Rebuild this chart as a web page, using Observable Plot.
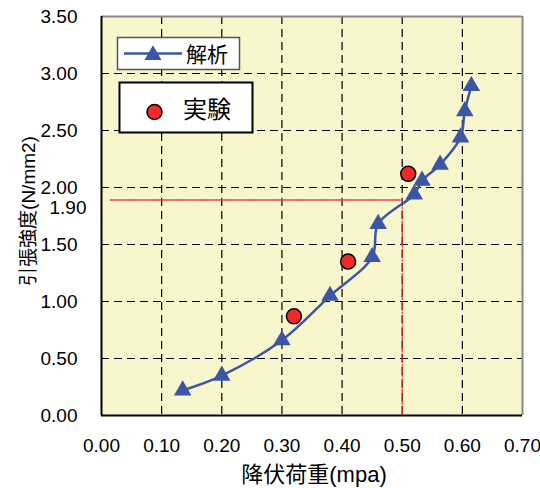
<!DOCTYPE html>
<html>
<head>
<meta charset="utf-8">
<script src="https://cdn.jsdelivr.net/npm/d3@7"></script>
<script src="https://cdn.jsdelivr.net/npm/@observablehq/plot@0.6"></script>
<style>
  html, body { margin: 0; padding: 0; background: #fff; }
  #chart { width: 540px; height: 488px; }
</style>
</head>
<body>
<div id="chart"></div>
<script>
// ---- data ----
const analysisX = [0.135, 0.20, 0.30, 0.38, 0.45, 0.46, 0.52, 0.533, 0.563, 0.597, 0.604, 0.615];
const analysisY = [0.22, 0.35, 0.66, 1.05, 1.39, 1.68, 1.94, 2.06, 2.20, 2.44, 2.67, 2.89];
const experimentX = [0.32, 0.41, 0.51];
const experimentY = [0.87, 1.35, 2.12];
const refHX = [0.015, 0.50];
const refHY = [1.89, 1.89];
const refVX = [0.50, 0.50];
const refVY = [1.89, 0.0];
const xTicks = [0, 0.1, 0.2, 0.3, 0.4, 0.5, 0.6, 0.7];
const yTicks = [0, 0.5, 1.0, 1.5, 2.0, 2.5, 3.0, 3.5];
const specialLabel = "1.90";
const xTitle = "降伏荷重(mpa)";
const yTitle = "引張強度(N/mm2)";
const seriesNames = ["解析", "実験"];

const analysis = analysisX.map((x, i) => ({x, y: analysisY[i]}));
const experiment = experimentX.map((x, i) => ({x, y: experimentY[i]}));
const refH = refHX.map((x, i) => ({x, y: refHY[i]}));
const refV = refVX.map((x, i) => ({x, y: refVY[i]}));

const blue = "#3d55a5";
const red = "#ee2a2a";
const font = "'Liberation Sans', Arial, 'Noto Sans CJK JP', sans-serif";
const cjkFont = "'Liberation Sans', 'Noto Sans CJK JP', sans-serif";

const chart = Plot.plot({
  width: 540,
  height: 488,
  marginLeft: 101,
  marginRight: 18,
  marginTop: 16,
  marginBottom: 73,
  style: {fontFamily: font, background: "#fff", overflow: "visible"},
  x: {domain: [0, 0.7], axis: null},
  y: {domain: [0, 3.5], axis: null},
  marks: [
    Plot.frame({fill: "#f8f6cc", stroke: null}),
    Plot.gridX(xTicks.slice(1, -1), {stroke: "#000", strokeOpacity: 1, strokeWidth: 1.2, strokeDasharray: "8,5"}),
    Plot.gridY(yTicks.slice(1, -1), {stroke: "#000", strokeOpacity: 1, strokeWidth: 1.2, strokeDasharray: "8,5"}),
    Plot.line(refH, {x: "x", y: "y", stroke: red, strokeWidth: 1.5, strokeDasharray: "1.5,1.5"}),
    Plot.line(refV, {x: "x", y: "y", stroke: red, strokeWidth: 1.2, strokeDasharray: "5,2,1.5,2"}),
    Plot.line(analysis, {x: "x", y: "y", stroke: blue, strokeWidth: 2.5, curve: "catmull-rom"}),
    Plot.dot(analysis, {x: "x", y: "y", symbol: "triangle", r: 6.5, fill: blue, stroke: null}),
    Plot.dot(experiment, {x: "x", y: "y", r: 7.5, fill: red, stroke: "#000", strokeWidth: 1.5}),
    Plot.ruleX([0.7], {stroke: "#888", strokeWidth: 2}),
    Plot.ruleY([3.5], {stroke: "#888", strokeWidth: 2}),
    Plot.ruleX([0], {stroke: "#000", strokeWidth: 2}),
    Plot.ruleY([0], {stroke: "#000", strokeWidth: 2}),
    Plot.axisX(xTicks, {tickSize: 0, tickPadding: 23, fontSize: 19, fill: "#000", tickFormat: d => d.toFixed(2), label: null}),
    Plot.axisY(yTicks, {tickSize: 0, tickPadding: 24, fontSize: 19, fill: "#000", tickFormat: d => d.toFixed(2), label: null}),
    Plot.text([specialLabel], {frameAnchor: "left", y: d => +d, text: d => d, dx: -15, dy: 9, textAnchor: "end", fontSize: 19, fill: "#000"}),
    Plot.text([xTitle], {frameAnchor: "bottom", text: d => d, textAnchor: "middle", lineAnchor: "middle", dx: 2, dy: 59, fontSize: 22, fill: "#000", fontFamily: cjkFont}),
    Plot.text([yTitle], {frameAnchor: "left", text: d => d, textAnchor: "middle", lineAnchor: "middle", rotate: -90, dx: -73, dy: -5, fontSize: 19, fill: "#000", fontFamily: cjkFont})
  ]
});

document.getElementById("chart").appendChild(chart);

// ---- legend ----
const svg = d3.select(chart);
const lg = svg.append("g").attr("font-family", cjkFont).attr("text-anchor", "start");
// legend 1: analysis
lg.append("rect").attr("x", 117.5).attr("y", 37.5).attr("width", 122).attr("height", 32)
  .attr("fill", "#fff").attr("stroke", "#555").attr("stroke-width", 1.5);
lg.append("line").attr("x1", 124).attr("x2", 182).attr("y1", 53.5).attr("y2", 53.5)
  .attr("stroke", blue).attr("stroke-width", 2.5);
lg.append("path").attr("d", d3.symbol(d3.symbolTriangle, 125)()).attr("transform", "translate(153,55)")
  .attr("fill", blue);
lg.append("text").attr("x", 186).attr("y", 54).attr("dominant-baseline", "central")
  .attr("font-size", 21).attr("fill", "#000").text(seriesNames[0]);
// legend 2: experiment
lg.append("rect").attr("x", 119.5).attr("y", 82.5).attr("width", 133).attr("height", 50)
  .attr("fill", "#fff").attr("stroke", "#000").attr("stroke-width", 2);
lg.append("circle").attr("cx", 154.5).attr("cy", 112).attr("r", 7.5)
  .attr("fill", red).attr("stroke", "#000").attr("stroke-width", 1.5);
lg.append("text").attr("x", 183).attr("y", 109).attr("dominant-baseline", "central")
  .attr("font-size", 24).attr("fill", "#000").text(seriesNames[1]);
</script>
</body>
</html>
